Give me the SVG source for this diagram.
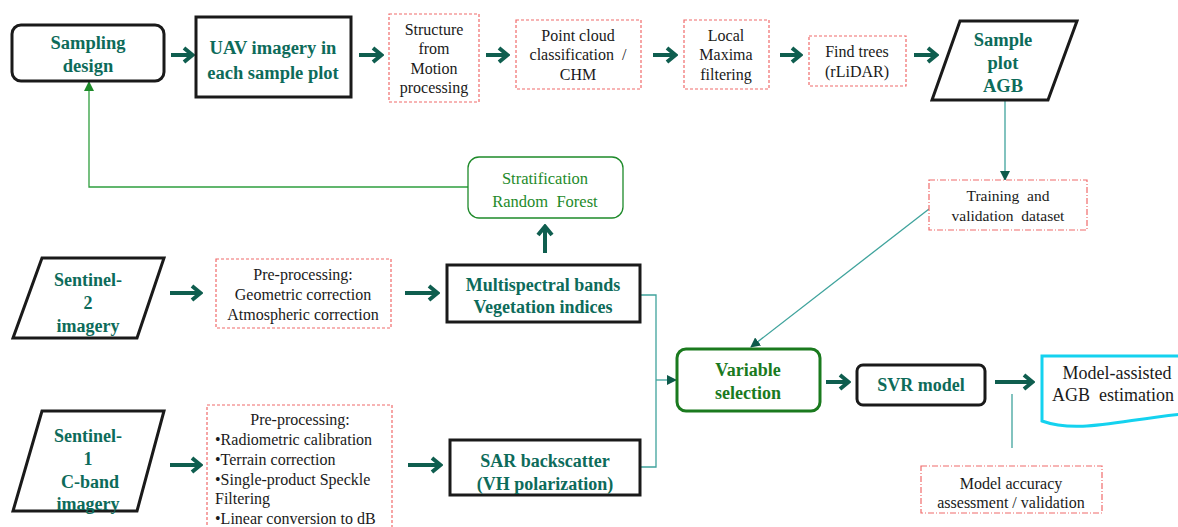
<svg xmlns="http://www.w3.org/2000/svg" width="1178" height="527" viewBox="0 0 1178 527" font-family="'Liberation Serif', 'DejaVu Serif', serif">
<defs>
<style>
text{font-family:'Liberation Serif','DejaVu Serif',serif}
.bt{font-weight:bold;fill:#0d6b5a;text-anchor:middle}
.bg{font-weight:bold;fill:#1a7a1e;text-anchor:middle}
.rt{fill:#1a1a1a;text-anchor:middle}
.lt{fill:#1a1a1a;text-anchor:start}
.gt{fill:#1e8a2a;text-anchor:middle}
.thick{fill:#fff;stroke:#1a1a1a;stroke-width:3}
.red{fill:#fff;stroke:#f06a6a;stroke-width:1.2;stroke-dasharray:3,2}
.reddd{fill:#fff;stroke:#f06a6a;stroke-width:1.2;stroke-dasharray:6,2,1,2}
.arr{fill:none;stroke:#0f5e4f;stroke-width:4;marker-end:url(#chev)}
.thin{fill:none;stroke:#3fa39c;stroke-width:1.3}
</style>
<marker id="chev" markerUnits="userSpaceOnUse" viewBox="0 0 14 18" refX="12" refY="9" markerWidth="14" markerHeight="18" orient="auto">
<path d="M3,2 L11.5,9 L3,16" fill="none" stroke="#0f5e4f" stroke-width="4"/>
</marker>
<marker id="tri" markerUnits="userSpaceOnUse" viewBox="0 0 10 10" refX="9" refY="5" markerWidth="10" markerHeight="10" orient="auto">
<path d="M0,0 L10,5 L0,10 Z" fill="#0d5a4a"/>
</marker>
<marker id="trig" markerUnits="userSpaceOnUse" viewBox="0 0 10 10" refX="9" refY="5" markerWidth="10" markerHeight="10" orient="auto">
<path d="M0,0 L10,5 L0,10 Z" fill="#1e8a2a"/>
</marker>
</defs>
<rect width="1178" height="527" fill="#fff"/>

<g id="connectors">
<path class="arr" d="M171,55 H193"/>
<path class="arr" d="M359,55 H382"/>
<path class="arr" d="M486,55 H508"/>
<path class="arr" d="M653,55 H676"/>
<path class="arr" d="M780,55 H801"/>
<path class="arr" d="M914,55 H937"/>
<path class="arr" d="M170,293 H201"/>
<path class="arr" d="M405,293 H438"/>
<path class="arr" d="M545,253 V226"/>
<path class="arr" d="M170,465 H201"/>
<path class="arr" d="M408,465 H441"/>
<path class="arr" d="M826,382 H849"/>
<path class="arr" d="M995,382 H1033"/>
<path d="M468,187 H89 V82" fill="none" stroke="#2e9e3e" stroke-width="1.3" marker-end="url(#trig)"/>
<path class="thin" d="M1005,101 V180" marker-end="url(#tri)"/>
<path class="thin" d="M929,209 L751,347" marker-end="url(#tri)"/>
<path class="thin" d="M640,295 H656 V467 H640"/>
<path class="thin" d="M656,380 H676" marker-end="url(#tri)"/>
<path class="thin" d="M1012,394 V448"/>
</g>

<g id="sampling-design">
<rect class="thick" x="12" y="25" width="152" height="56" rx="9"/>
<text class="bt" font-size="18.5" x="88" y="49">Sampling</text>
<text class="bt" font-size="18.5" x="88" y="72">design</text>
</g>
<g id="uav">
<rect class="thick" x="196" y="17" width="155" height="80"/>
<text class="bt" font-size="18.5" x="273" y="54">UAV imagery in</text>
<text class="bt" font-size="18.5" x="273" y="79">each sample plot</text>
</g>
<g id="sfm">
<rect class="red" x="389" y="14" width="90" height="88"/>
<text class="rt" font-size="16" x="434" y="35">Structure</text>
<text class="rt" font-size="16" x="434" y="54">from</text>
<text class="rt" font-size="16" x="434" y="74">Motion</text>
<text class="rt" font-size="16" x="434" y="93">processing</text>
</g>
<g id="pointcloud">
<rect class="red" x="516" y="20" width="125" height="69"/>
<text class="rt" font-size="16" x="578" y="41">Point cloud</text>
<text class="rt" font-size="16" x="578" y="60" xml:space="preserve">classification  /</text>
<text class="rt" font-size="16" x="578" y="80">CHM</text>
</g>
<g id="localmaxima">
<rect class="red" x="684" y="20" width="85" height="69"/>
<text class="rt" font-size="16" x="726" y="41">Local</text>
<text class="rt" font-size="16" x="726" y="60">Maxima</text>
<text class="rt" font-size="16" x="726" y="80">filtering</text>
</g>
<g id="findtrees">
<rect class="red" x="809" y="36" width="97" height="50"/>
<text class="rt" font-size="16" x="857" y="57">Find trees</text>
<text class="rt" font-size="16" x="857" y="77">(rLiDAR)</text>
</g>
<g id="sample-plot-agb">
<path class="thick" d="M960,21 H1077 L1048,100 H932 Z"/>
<text class="bt" font-size="18.5" x="1003" y="46">Sample</text>
<text class="bt" font-size="18.5" x="1003" y="69">plot</text>
<text class="bt" font-size="18.5" x="1003" y="92">AGB</text>
</g>
<g id="training">
<rect class="reddd" x="929" y="180" width="158" height="50"/>
<text class="rt" font-size="15.5" x="1008" y="201" xml:space="preserve">Training  and</text>
<text class="rt" font-size="15.5" x="1008" y="221" xml:space="preserve">validation  dataset</text>
</g>
<g id="stratification">
<rect x="468" y="157" width="155" height="61" rx="11" fill="#fff" stroke="#1e8a2a" stroke-width="1.3"/>
<text class="gt" font-size="16.5" x="545" y="184">Stratification</text>
<text class="gt" font-size="16.5" x="545" y="207" xml:space="preserve">Random  Forest</text>
</g>
<g id="sentinel-2">
<path class="thick" d="M42,258 H164 L137,338 H13 Z"/>
<text class="bt" font-size="18" x="88" y="286">Sentinel-</text>
<text class="bt" font-size="18" x="88" y="309">2</text>
<text class="bt" font-size="18" x="88" y="332">imagery</text>
</g>
<g id="preproc-s2">
<rect class="red" x="216" y="259" width="175" height="69"/>
<text class="rt" font-size="16" x="303" y="280">Pre-processing:</text>
<text class="rt" font-size="16" x="303" y="300">Geometric correction</text>
<text class="rt" font-size="16" x="303" y="320">Atmospheric correction</text>
</g>
<g id="multispectral">
<rect class="thick" x="447" y="265" width="193" height="57"/>
<text class="bt" font-size="18" x="543" y="291">Multispectral bands</text>
<text class="bt" font-size="18" x="543" y="313">Vegetation indices</text>
</g>
<g id="sentinel-1">
<path class="thick" d="M42,411 H164 L137,511 H13 Z"/>
<text class="bt" font-size="18" x="88" y="442">Sentinel-</text>
<text class="bt" font-size="18" x="88" y="465">1</text>
<text class="bt" font-size="18" x="90" y="488">C-band</text>
<text class="bt" font-size="18" x="88" y="510">imagery</text>
</g>
<g id="preproc-s1">
<rect class="red" x="207" y="405" width="185" height="130"/>
<text class="rt" font-size="16" x="300" y="425">Pre-processing:</text>
<text class="lt" font-size="16" x="215" y="445">•Radiometric calibration</text>
<text class="lt" font-size="16" x="215" y="465">•Terrain correction</text>
<text class="lt" font-size="16" x="215" y="485">•Single-product Speckle</text>
<text class="lt" font-size="16" x="215" y="504">Filtering</text>
<text class="lt" font-size="16" x="215" y="524">•Linear conversion to dB</text>
</g>
<g id="sar">
<rect class="thick" x="450" y="440" width="190" height="55"/>
<text class="bt" font-size="18" x="545" y="467">SAR backscatter</text>
<text class="bt" font-size="18" x="545" y="490">(VH polarization)</text>
</g>
<g id="variable-selection">
<rect x="677" y="349" width="143" height="62" rx="9" fill="#fff" stroke="#1a7a1e" stroke-width="3"/>
<text class="bg" font-size="18" x="748" y="376">Variable</text>
<text class="bg" font-size="18" x="748" y="399">selection</text>
</g>
<g id="svr">
<rect class="thick" x="857" y="365" width="128" height="40" rx="6"/>
<text class="bt" font-size="18" x="921" y="391">SVR model</text>
</g>
<g id="model-assisted">
<path d="M1182,356 H1042 V421 C1078,434 1120,420 1182,414" fill="#fff" stroke="#14d2ef" stroke-width="3"/>
<text class="rt" font-size="18" x="1117" y="379">Model-assisted</text>
<text class="rt" font-size="18" x="1113" y="401" xml:space="preserve">AGB  estimation</text>
</g>
<g id="accuracy">
<rect class="reddd" x="921" y="466" width="181" height="47"/>
<text class="rt" font-size="16" x="1011" y="489">Model accuracy</text>
<text class="rt" font-size="16" x="1011" y="508">assessment / validation</text>
</g>
</svg>
